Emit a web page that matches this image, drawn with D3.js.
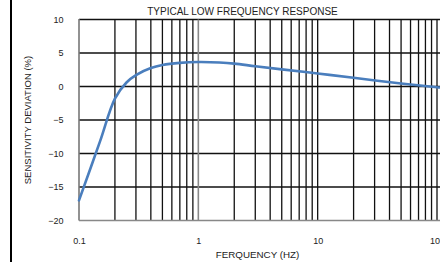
<!DOCTYPE html>
<html>
<head>
<meta charset="utf-8">
<script src="https://cdn.jsdelivr.net/npm/d3@7"></script>
<style>
  html, body { margin: 0; padding: 0; background: #fff; }
  svg { display: block; font-family: "Liberation Sans", Arial, sans-serif; }
</style>
</head>
<body>
<svg id="chart" width="440" height="262"></svg>
<script>
// Typical low frequency response
const freqHz = [0.1, 0.15, 0.2, 0.25, 0.3, 0.4, 0.5, 0.7, 1, 1.5, 2, 3, 5, 10, 20, 50, 100, 105];
const deviationPct = [-17, -8.2, -1.8, 0.6, 1.7, 2.75, 3.2, 3.52, 3.65, 3.58, 3.42, 3.02, 2.55, 1.95, 1.3, 0.45, -0.1, -0.15];
const xTickLabels = [0.1, 1, 10, 100];
const yTickLabels = [10, 5, 0, -5, -10, -15, -20];
// minor grid: 0.2..0.9, 2..9, 20..90
const xGridValues = [0.2, 0.3, 0.4, 0.5, 0.6, 0.7, 0.8, 0.9, 2, 3, 4, 5, 6, 7, 8, 9,
                     10, 20, 30, 40, 50, 60, 70, 80, 90, 100];

const svg = d3.select('#chart');
const plotL = 79, plotR = 437, plotT = 19.5, plotB = 220.5, W = 440;

const x = d3.scaleLog().domain([0.1, 100]).range([plotL, plotR]);
const y = d3.scaleLinear().domain([-20, 10]).range([plotB, plotT]);

// black bar down the left edge
svg.append('line')
  .attr('x1', 11).attr('x2', 11).attr('y1', 0).attr('y2', 262)
  .attr('stroke', '#000').attr('stroke-width', 2);

// horizontal grid lines
svg.append('g').selectAll('line')
  .data(yTickLabels.filter(d => d !== -20))
  .join('line')
  .attr('x1', plotL).attr('x2', W)
  .attr('y1', d => y(d)).attr('y2', d => y(d))
  .attr('stroke', '#111').attr('stroke-width', 1.3);

// vertical grid lines
svg.append('g').selectAll('line')
  .data(xGridValues)
  .join('line')
  .attr('x1', d => x(d)).attr('x2', d => x(d))
  .attr('y1', plotT).attr('y2', plotB)
  .attr('stroke', '#111').attr('stroke-width', 1.3);

// grey line at 1 Hz
svg.append('line')
  .attr('x1', x(1)).attr('x2', x(1)).attr('y1', plotT).attr('y2', plotB)
  .attr('stroke', '#888').attr('stroke-width', 1.6);

// grey left and bottom axis lines
svg.append('line')
  .attr('x1', plotL).attr('x2', plotL).attr('y1', plotT - 0.6).attr('y2', plotB)
  .attr('stroke', '#777').attr('stroke-width', 1.6);
svg.append('line')
  .attr('x1', plotL).attr('x2', W).attr('y1', plotB).attr('y2', plotB)
  .attr('stroke', '#888').attr('stroke-width', 1.6);

// axes labels through d3 axes
const xAxis = d3.axisBottom(x)
  .tickValues(xTickLabels)
  .tickFormat(d => String(d))
  .tickSize(0).tickPadding(17);
svg.append('g')
  .attr('transform', `translate(0,${plotB})`)
  .call(xAxis)
  .call(g => g.select('.domain').remove())
  .selectAll('text')
  .attr('font-size', 9).attr('fill', '#222')
  .attr('font-family', '"Liberation Sans", Arial, sans-serif');

const yAxis = d3.axisLeft(y)
  .tickValues(yTickLabels)
  .tickSize(0).tickPadding(15.5);
svg.append('g')
  .attr('transform', `translate(${plotL},0)`)
  .call(yAxis)
  .call(g => g.select('.domain').remove())
  .selectAll('text')
  .attr('font-size', 9).attr('fill', '#222')
  .attr('font-family', '"Liberation Sans", Arial, sans-serif');

// curve
const line = d3.line()
  .x((d, i) => x(freqHz[i]))
  .y(d => y(d))
  .curve(d3.curveCatmullRom.alpha(0.5));
svg.append('path')
  .datum(deviationPct)
  .attr('fill', 'none')
  .attr('stroke', '#4a7ebd')
  .attr('stroke-width', 2.6)
  .attr('stroke-linecap', 'round')
  .attr('d', line);

// titles
svg.append('text')
  .attr('x', 242.5).attr('y', 15)
  .attr('text-anchor', 'middle')
  .attr('font-size', 10).attr('fill', '#222')
  .text('TYPICAL LOW FREQUENCY RESPONSE');

svg.append('text')
  .attr('x', 257.5).attr('y', 258)
  .attr('text-anchor', 'middle')
  .attr('font-size', 9.8).attr('fill', '#222')
  .text('FERQUENCY (HZ)');

svg.append('text')
  .attr('transform', 'translate(31,120) rotate(-90)')
  .attr('text-anchor', 'middle')
  .attr('font-size', 9.5).attr('fill', '#222')
  .text('SENSITIVITY DEVIATION (%)');
</script>
</body>
</html>
